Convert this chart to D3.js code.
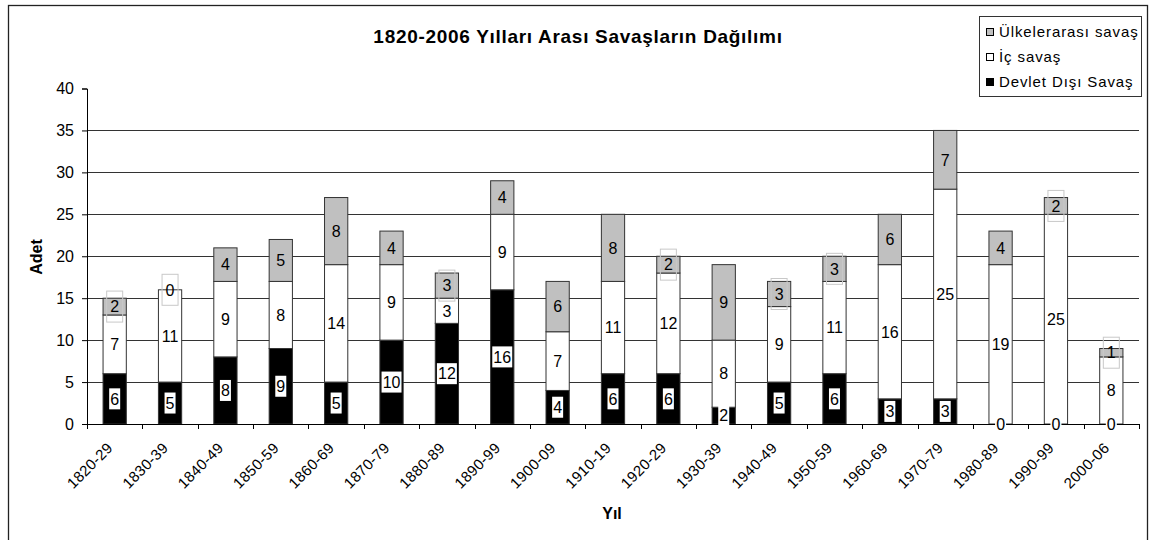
<!DOCTYPE html>
<html>
<head>
<meta charset="utf-8">
<script src="https://cdn.jsdelivr.net/npm/d3@7"></script>
<style>
    body { margin: 0; background: #fff; }
    text { font-family: "Liberation Sans", Arial, sans-serif; }
</style>
</head>
<body>
<div id="chart"></div>
<script>
var categories = ["1820-29", "1830-39", "1840-49", "1850-59", "1860-69", "1870-79", "1880-89",
    "1890-99", "1900-09", "1910-19", "1920-29", "1930-39", "1940-49", "1950-59", "1960-69",
    "1970-79", "1980-89", "1990-99", "2000-06"];
var devletDisi = [6, 5, 8, 9, 5, 10, 12, 16, 4, 6, 6, 2, 5, 6, 3, 3, 0, 0, 0];
var icSavas = [7, 11, 9, 8, 14, 9, 3, 9, 7, 11, 12, 8, 9, 11, 16, 25, 19, 25, 8];
var ulkelerarasi = [2, 0, 4, 5, 8, 4, 3, 4, 6, 8, 2, 9, 3, 3, 6, 7, 4, 2, 1];
var seriesNames = ["Devlet Dışı Savaş", "İç savaş", "Ülkelerarası savaş"];
var yTicks = [0, 5, 10, 15, 20, 25, 30, 35, 40];

function drawChart() {
    var width = 1153;
    var height = 540;
    var left = 87, right = 1139, top = 88.5, bottom = 424;

    var svg = d3.select("#chart").append("svg")
        .attr("width", width)
        .attr("height", height);

    /*****************  Outer border **********************/
    svg.append("rect")
        .attr("x", 8.5).attr("y", 5.5)
        .attr("width", 1139).attr("height", 545)
        .attr("fill", "#fff")
        .attr("stroke", "#222")
        .attr("stroke-width", 1.3);

    var x = d3.scaleBand()
        .domain(categories)
        .range([left, right])
        .paddingInner(0.58)
        .paddingOuter(0.29);

    var y = d3.scaleLinear()
        .domain([0, 40])
        .range([bottom, top]);

    /*****************  Grid lines **********************/
    svg.append("g").selectAll("line")
        .data(yTicks.filter(function (d) { return d > 0 && d < 40; }))
        .enter()
        .append("line")
        .attr("x1", left).attr("x2", right)
        .attr("y1", function (d) { return Math.round(y(d)) + 0.5; })
        .attr("y2", function (d) { return Math.round(y(d)) + 0.5; })
        .attr("stroke", "#333");

    /*****************  Stacked bars **********************/
    var table = categories.map(function (c, i) {
        return { cat: c, s0: devletDisi[i], s1: icSavas[i], s2: ulkelerarasi[i] };
    });
    var stack = d3.stack().keys(["s0", "s1", "s2"]);
    var layers = stack(table);
    var fills = ["#000", "#fff", "#c0c0c0"];

    var groups = svg.append("g").selectAll("g")
        .data(layers)
        .enter()
        .append("g")
        .attr("fill", function (d, i) { return fills[i]; });

    groups.selectAll("rect")
        .data(function (d) { return d; })
        .enter()
        .append("rect")
        .attr("x", function (d) { return x(d.data.cat); })
        .attr("y", function (d) { return y(d[1]); })
        .attr("width", x.bandwidth())
        .attr("height", function (d) { return y(d[0]) - y(d[1]); })
        .attr("stroke", "#333")
        .attr("stroke-width", 1);

    /*****************  Axes **********************/
    var yAxis = d3.axisLeft(y).tickValues(yTicks).tickSize(5).tickPadding(8);
    var gy = svg.append("g")
        .attr("transform", "translate(" + left + ",0)")
        .call(yAxis);
    gy.select(".domain").attr("stroke", "#000");
    gy.selectAll("text").attr("font-size", "16px").attr("fill", "#000")
        .attr("font-family", "Liberation Sans, Arial, sans-serif");

    svg.append("line")
        .attr("x1", left).attr("x2", right + 1)
        .attr("y1", bottom + 0.5).attr("y2", bottom + 0.5)
        .attr("stroke", "#000");

    var bounds = categories.map(function (c) { return x(c) - x.step() * x.paddingInner() / 2; });
    bounds.push(right);
    svg.append("g").selectAll("line")
        .data(bounds)
        .enter()
        .append("line")
        .attr("x1", function (d) { return Math.round(d) + 0.5; })
        .attr("x2", function (d) { return Math.round(d) + 0.5; })
        .attr("y1", bottom).attr("y2", bottom + 5)
        .attr("stroke", "#000");

    svg.append("g").selectAll("text")
        .data(categories)
        .enter()
        .append("text")
        .attr("transform", function (d) {
            return "translate(" + (x(d) + x.bandwidth() / 2 - 1) + "," + (bottom + 25) + ") rotate(-45)";
        })
        .attr("text-anchor", "end")
        .attr("font-size", "15px")
        .attr("letter-spacing", "0.3px")
        .text(function (d) { return d; });

    /*****************  Value labels **********************/
    var labels = [];
    layers.forEach(function (layer, li) {
        layer.forEach(function (d) {
            var v = d[1] - d[0];
            labels.push({ li: li, v: v, cx: x(d.data.cat) + x.bandwidth() / 2, cy: (y(d[0]) + y(d[1])) / 2 });
        });
    });

    var lab = svg.append("g").selectAll("g")
        .data(labels)
        .enter()
        .append("g")
        .attr("transform", function (d) { return "translate(" + d.cx + "," + d.cy + ")"; });

    lab.filter(function (d) { return d.li == 2 && d.v <= 3; })
        .append("rect")
        .attr("x", -8).attr("y", -15.5)
        .attr("width", 16).attr("height", 31)
        .attr("fill", "none")
        .attr("stroke", "#c8c8c8");

    lab.filter(function (d) { return d.li < 2; })
        .append("rect")
        .attr("x", function (d) { return d.v >= 10 ? -10 : -5.5; })
        .attr("y", -10.5)
        .attr("width", function (d) { return d.v >= 10 ? 20 : 11; })
        .attr("height", 21)
        .attr("fill", "#fff");

    lab.append("text")
        .attr("text-anchor", "middle")
        .attr("dy", "0.36em")
        .attr("font-size", "16px")
        .attr("fill", "#000")
        .text(function (d) { return d.v; });

    /*****************  Titles **********************/
    svg.append("text")
        .attr("x", 578).attr("y", 43)
        .attr("text-anchor", "middle")
        .attr("font-size", "19px")
        .attr("font-weight", "bold")
        .attr("letter-spacing", "0.7px")
        .text("1820-2006 Yılları Arası Savaşların Dağılımı");

    svg.append("text")
        .attr("transform", "translate(42,257) rotate(-90)")
        .attr("text-anchor", "middle")
        .attr("font-size", "16px")
        .attr("font-weight", "bold")
        .text("Adet");

    svg.append("text")
        .attr("x", 612).attr("y", 519)
        .attr("text-anchor", "middle")
        .attr("font-size", "16px")
        .attr("font-weight", "bold")
        .text("Yıl");

    /*****************  Legend **********************/
    var legend = svg.append("g");
    legend.append("rect")
        .attr("x", 979.5).attr("y", 16.5)
        .attr("width", 162).attr("height", 80)
        .attr("fill", "#fff")
        .attr("stroke", "#333");

    var order = [2, 1, 0];
    var items = legend.selectAll(".item")
        .data(order)
        .enter()
        .append("g")
        .attr("class", "item")
        .attr("transform", function (d, i) { return "translate(986," + (32 + i * 25) + ")"; });

    items.append("rect")
        .attr("x", 0.5).attr("y", -3.5)
        .attr("width", 7).attr("height", 7)
        .attr("fill", function (d) { return fills[d]; })
        .attr("stroke", "#000");

    items.append("text")
        .attr("x", 13).attr("dy", "0.36em")
        .attr("font-size", "15px")
        .attr("letter-spacing", "0.9px")
        .text(function (d) { return seriesNames[d]; });
}

drawChart();
</script>
</body>
</html>
